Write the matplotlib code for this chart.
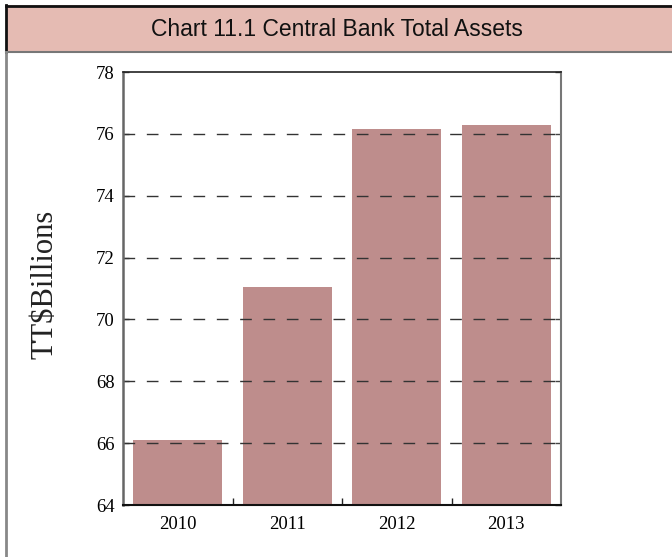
import matplotlib.pyplot as plt
from matplotlib.patches import Rectangle
from matplotlib.lines import Line2D

# data
years = ["2010", "2011", "2012", "2013"]
assets = [66.1, 71.05, 76.17, 76.28]
y_ticks = [64, 66, 68, 70, 72, 74, 76, 78]

W, H = 672, 557
fig = plt.figure(figsize=(W / 100, H / 100), dpi=100)

# title band at the top of the figure
band = Rectangle((6 / W, 1 - 52 / H), 1, 47 / H, transform=fig.transFigure,
                 facecolor="#E5BBB3", edgecolor="none", zorder=0)
fig.patches.append(band)
fig.lines.append(Line2D([6 / W, 1], [1 - 5.5 / H] * 2, transform=fig.transFigure,
                        color="#111111", lw=2))
fig.lines.append(Line2D([6 / W, 6 / W], [1 - 5 / H, 1 - 52 / H], transform=fig.transFigure,
                        color="#111111", lw=2))
fig.lines.append(Line2D([6 / W, 1], [1 - 52 / H] * 2, transform=fig.transFigure,
                        color="#777777", lw=1.5))
fig.lines.append(Line2D([6 / W, 6 / W], [0, 1 - 52 / H], transform=fig.transFigure,
                        color="#888888", lw=2))
fig.text(337 / W, 1 - 30 / H, "Chart 11.1 Central Bank Total Assets",
         ha="center", va="center", fontsize=16.5, family="Liberation Sans", color="#111111")

ax = fig.add_axes([123 / W, 1 - 505 / H, 438 / W, 433 / H])
x = range(len(years))
ax.bar(x, [v - 64 for v in assets], bottom=64, width=0.81, color="#BE8D8C", zorder=1)

ax.set_xlim(-0.5, len(years) - 0.5)
ax.set_ylim(64, 78)
ax.set_yticks(y_ticks)
ax.set_yticklabels([str(t) for t in y_ticks], family="Liberation Serif", fontsize=13.5)
ax.set_xticks(list(x))
ax.set_xticklabels(years, family="Liberation Serif", fontsize=13.5)
ax.set_xticks([0.5, 1.5, 2.5], minor=True)
ax.tick_params(axis="x", which="major", length=0, pad=8)
ax.tick_params(axis="x", which="minor", direction="in", length=5, width=1, color="#222222")
ax.tick_params(axis="y", direction="in", length=4, width=1, right=True, pad=6, color="#444444")

for yv in y_ticks[1:-1]:
    ax.axhline(yv, color="#333333", lw=1, linestyle=(0, (8.4, 8.4)), zorder=2)

ax.spines["left"].set_color("#666666")
ax.spines["left"].set_linewidth(1.8)
ax.spines["bottom"].set_color("#111111")
ax.spines["bottom"].set_linewidth(1.5)
ax.spines["top"].set_color("#222222")
ax.spines["top"].set_linewidth(1.2)
ax.spines["right"].set_color("#777777")
ax.spines["right"].set_linewidth(1.5)

fig.text(45 / W, 1 - 284 / H, "TT$Billions", rotation=90, ha="center", va="center",
         fontsize=22, family="Liberation Serif", color="#222222")

fig.savefig("out.png", dpi=100)
